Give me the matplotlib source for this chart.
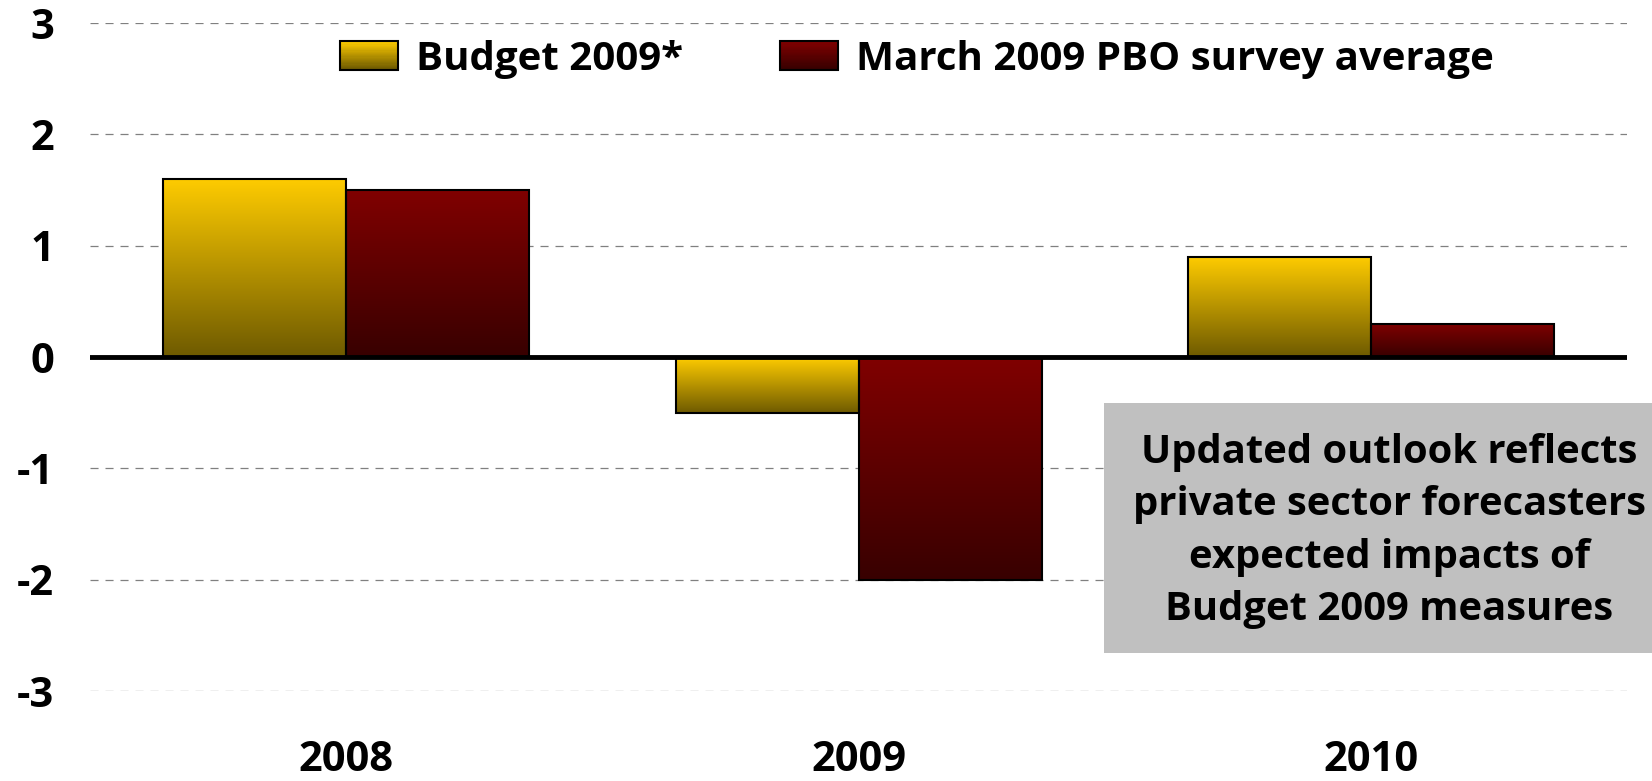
import numpy as np
import matplotlib
matplotlib.use("Agg")
import matplotlib.pyplot as plt
from matplotlib.colors import LinearSegmentedColormap
from matplotlib.patches import Rectangle
from matplotlib.legend_handler import HandlerBase

plt.rcParams['font.family'] = ['Open Sans', 'DejaVu Sans']
plt.rcParams['font.weight'] = 'bold'
plt.rcParams['lines.scale_dashes'] = False
plt.rcParams['axes.unicode_minus'] = False

years = ['2008', '2009', '2010']
budget = [1.6, -0.5, 0.9]
pbo = [1.5, -2.0, 0.3]
series_names = ['Budget 2009*', 'March 2009 PBO survey average']
yticks = [-3, -2, -1, 0, 1, 2, 3]
note = ('Updated outlook reflects\nprivate sector forecasters\n'
        'expected impacts of\nBudget 2009 measures')

yellow = LinearSegmentedColormap.from_list('y', ['#FFCC00', '#6E5A00'])
red = LinearSegmentedColormap.from_list('r', ['#800000', '#380000'])

FS = 30


class GradHandler(HandlerBase):
    def create_artists(self, legend, orig_handle, xdescent, ydescent,
                       width, height, fontsize, trans):
        cmap = orig_handle.cmap
        n = 24
        arts = []
        for i in range(n):
            r = Rectangle((-xdescent, -ydescent + height * (n - 1 - i) / n),
                          width, height / n + 0.3, facecolor=cmap(i / (n - 1)),
                          edgecolor='none', transform=trans)
            arts.append(r)
        arts.append(Rectangle((-xdescent, -ydescent), width, height,
                              facecolor='none', edgecolor='black', lw=1.5,
                              transform=trans))
        return arts


class GradPatch:
    def __init__(self, cmap):
        self.cmap = cmap


fig = plt.figure(figsize=(16.52, 7.81), dpi=100)
ax = fig.add_axes([0.0545, 0.1152, 0.9305, 0.8553])

x = np.arange(len(years))
w = 0.357
grad = np.linspace(0, 1, 256).reshape(-1, 1)
for vals, off, cmap in [(budget, -w / 2, yellow), (pbo, w / 2, red)]:
    bars = ax.bar(x + off, vals, w, facecolor='none', edgecolor='black',
                  lw=1.5, zorder=3)
    for b in bars:
        x0, y0 = b.get_x(), b.get_y()
        x1, y1 = x0 + b.get_width(), y0 + b.get_height()
        ax.imshow(grad, cmap=cmap, extent=[x0, x1, min(y0, y1), max(y0, y1)],
                  origin='upper', aspect='auto', zorder=2)

ax.axhline(0, color='black', lw=3.5, zorder=4)
for t in yticks:
    if t != 0:
        ax.axhline(t, color='#808080', lw=0.9, ls=(0, (5.8, 5.0)), zorder=0)

ax.set_xlim(-0.5, 2.5)
ax.set_ylim(-3, 3)
ax.set_xticks(x)
ax.set_xticklabels(years)
ax.set_yticks(yticks)
ax.tick_params(axis='both', length=0, labelsize=FS)
ax.tick_params(axis='y', pad=26)
ax.tick_params(axis='x', pad=35)
for s in ax.spines.values():
    s.set_visible(False)

ax.legend([GradPatch(yellow), GradPatch(red)], series_names, ncol=2,
          handler_map={GradPatch: GradHandler()}, loc='center',
          bbox_to_anchor=(0.538, 0.946), frameon=False, fontsize=29,
          handlelength=1.45, handleheight=0.72, handletextpad=0.45,
          columnspacing=2.4)

fig.patches.append(Rectangle((0.668, 0.164), 0.332, 0.320, facecolor='#C0C0C0',
                             edgecolor='none', transform=fig.transFigure,
                             zorder=5))
fig.text(0.841, 0.320, note, ha='center', va='center', fontsize=28.8,
         linespacing=1.44, zorder=6)

fig.savefig('out.png', dpi=100)
